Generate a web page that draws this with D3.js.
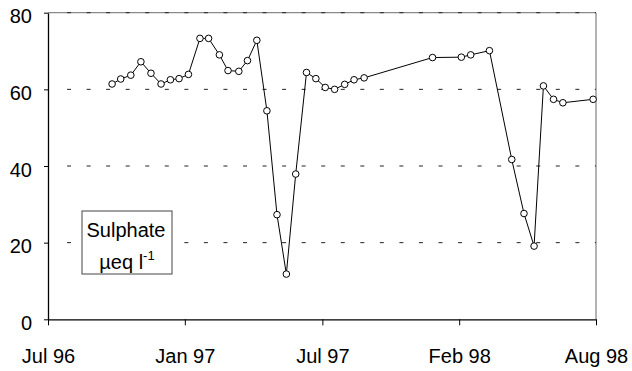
<!DOCTYPE html>
<html>
<head>
<meta charset="utf-8">
<script src="https://cdn.jsdelivr.net/npm/d3@7"></script>
<style>
  html, body { margin: 0; padding: 0; background: #fff; }
  svg { display: block; font-family: "Liberation Sans", Arial, sans-serif; }
</style>
</head>
<body>
<svg id="chart" width="632" height="371"></svg>
<script>
// Sampling dates and sulphate concentrations (µeq l-1)
const sampleDates = [
  "1996-10-12", "1996-10-24", "1996-11-07", "1996-11-21", "1996-12-05", "1996-12-19",
  "1997-01-01", "1997-01-13", "1997-01-26", "1997-02-11", "1997-02-23", "1997-03-10",
  "1997-03-22", "1997-04-06", "1997-04-18", "1997-05-01", "1997-05-15", "1997-05-29",
  "1997-06-11", "1997-06-24", "1997-07-09", "1997-07-22", "1997-08-04", "1997-08-17",
  "1997-08-31", "1997-09-13", "1997-09-27", "1997-12-31", "1998-02-09", "1998-02-22",
  "1998-03-20", "1998-04-20", "1998-05-07", "1998-05-21", "1998-06-03", "1998-06-17",
  "1998-06-30", "1998-08-11"
];
const sulphate = [
  61.4, 62.7, 63.7, 67.2, 64.2, 61.4,
  62.5, 62.8, 63.9, 73.3, 73.3, 69.0,
  64.9, 64.7, 67.5, 72.8, 54.4, 27.3,
  11.8, 37.9, 64.4, 62.8, 60.5, 60.0,
  61.3, 62.5, 63.0, 68.3, 68.4, 69.0,
  70.1, 41.7, 27.6, 19.1, 60.9, 57.4,
  56.5, 57.4
];

// Axis settings
const xDomain = ["1996-07-15", "1998-08-15"];
const xTickDates = ["1996-07-15", "1997-01-21", "1997-07-31", "1998-02-06", "1998-08-15"];
const xTickLabels = ["Jul 96", "Jan 97", "Jul 97", "Feb 98", "Aug 98"];
const yTicks = [0, 20, 40, 60, 80];
const gridValues = [20, 40, 60, 80];

const parse = d3.utcParse("%Y-%m-%d");
const data = sampleDates.map((d, i) => ({ date: parse(d), value: sulphate[i] }));

const plot = { left: 48, right: 596, top: 12.7, bottom: 319.3 };

const x = d3.scaleUtc().domain(xDomain.map(parse)).range([plot.left, plot.right]);
const y = d3.scaleLinear().domain([0, 80]).range([plot.bottom, plot.top]);

const svg = d3.select("#chart");

// Grey frame on top and right
svg.append("line")
  .attr("x1", plot.left).attr("x2", plot.right).attr("y1", y(80)).attr("y2", y(80))
  .attr("stroke", "#8a8a8a").attr("stroke-width", 1.3);
svg.append("line")
  .attr("x1", plot.right).attr("x2", plot.right).attr("y1", y(80)).attr("y2", y(0))
  .attr("stroke", "#8a8a8a").attr("stroke-width", 1.3);

// Dashed horizontal gridlines
svg.append("g").selectAll("line")
  .data(gridValues)
  .join("line")
  .attr("x1", plot.left + 4).attr("x2", plot.right)
  .attr("y1", d => y(d)).attr("y2", d => y(d))
  .attr("stroke", "#222").attr("stroke-width", 1)
  .attr("stroke-dasharray", "4 15.55")
  .attr("stroke-dashoffset", 4.5);

// Y axis
const yAxis = svg.append("g")
  .attr("transform", `translate(${plot.left},0)`)
  .call(d3.axisLeft(y).tickValues(yTicks).tickSize(4).tickSizeOuter(0).tickPadding(12));
yAxis.selectAll("text").attr("font-size", 20).attr("fill", "#000")
  .attr("font-family", "Liberation Sans, Arial, sans-serif").attr("dy", "0.5em");
yAxis.select(".domain").attr("stroke", "#000").attr("stroke-width", 1.3);
yAxis.selectAll(".tick line").attr("stroke", "#000");

// X axis
const xAxis = svg.append("g")
  .attr("transform", `translate(0,${plot.bottom})`)
  .call(d3.axisBottom(x)
    .tickValues(xTickDates.map(parse))
    .tickFormat((d, i) => xTickLabels[i])
    .tickSize(6).tickSizeOuter(0).tickPadding(24));
xAxis.selectAll("text").attr("font-size", 20).attr("fill", "#000")
  .attr("font-family", "Liberation Sans, Arial, sans-serif");
xAxis.select(".domain").attr("stroke", "#000").attr("stroke-width", 1.3);
xAxis.selectAll(".tick line").attr("stroke", "#000");

// Series line
svg.append("path")
  .datum(data)
  .attr("fill", "none")
  .attr("stroke", "#000")
  .attr("stroke-width", 1)
  .attr("d", d3.line().x(d => x(d.date)).y(d => y(d.value)));

// Sample markers
svg.append("g").selectAll("circle")
  .data(data)
  .join("circle")
  .attr("cx", d => x(d.date))
  .attr("cy", d => y(d.value))
  .attr("r", 3.3)
  .attr("fill", "#fff")
  .attr("stroke", "#000")
  .attr("stroke-width", 1);

// Label box
const label = svg.append("g").attr("transform", "translate(82,211)");
label.append("rect")
  .attr("x", 0).attr("y", 0).attr("width", 90).attr("height", 63)
  .attr("fill", "#fff").attr("stroke", "#444").attr("stroke-width", 1);
label.append("text")
  .attr("x", 44).attr("y", 26)
  .attr("text-anchor", "middle").attr("font-size", 20).attr("fill", "#000")
  .text("Sulphate");
const unit = label.append("text")
  .attr("x", 45).attr("y", 57.5)
  .attr("text-anchor", "middle").attr("font-size", 20).attr("fill", "#000");
unit.append("tspan").text("µeq l");
unit.append("tspan").attr("font-size", 13).attr("dy", -9).text("-1");
</script>
</body>
</html>
